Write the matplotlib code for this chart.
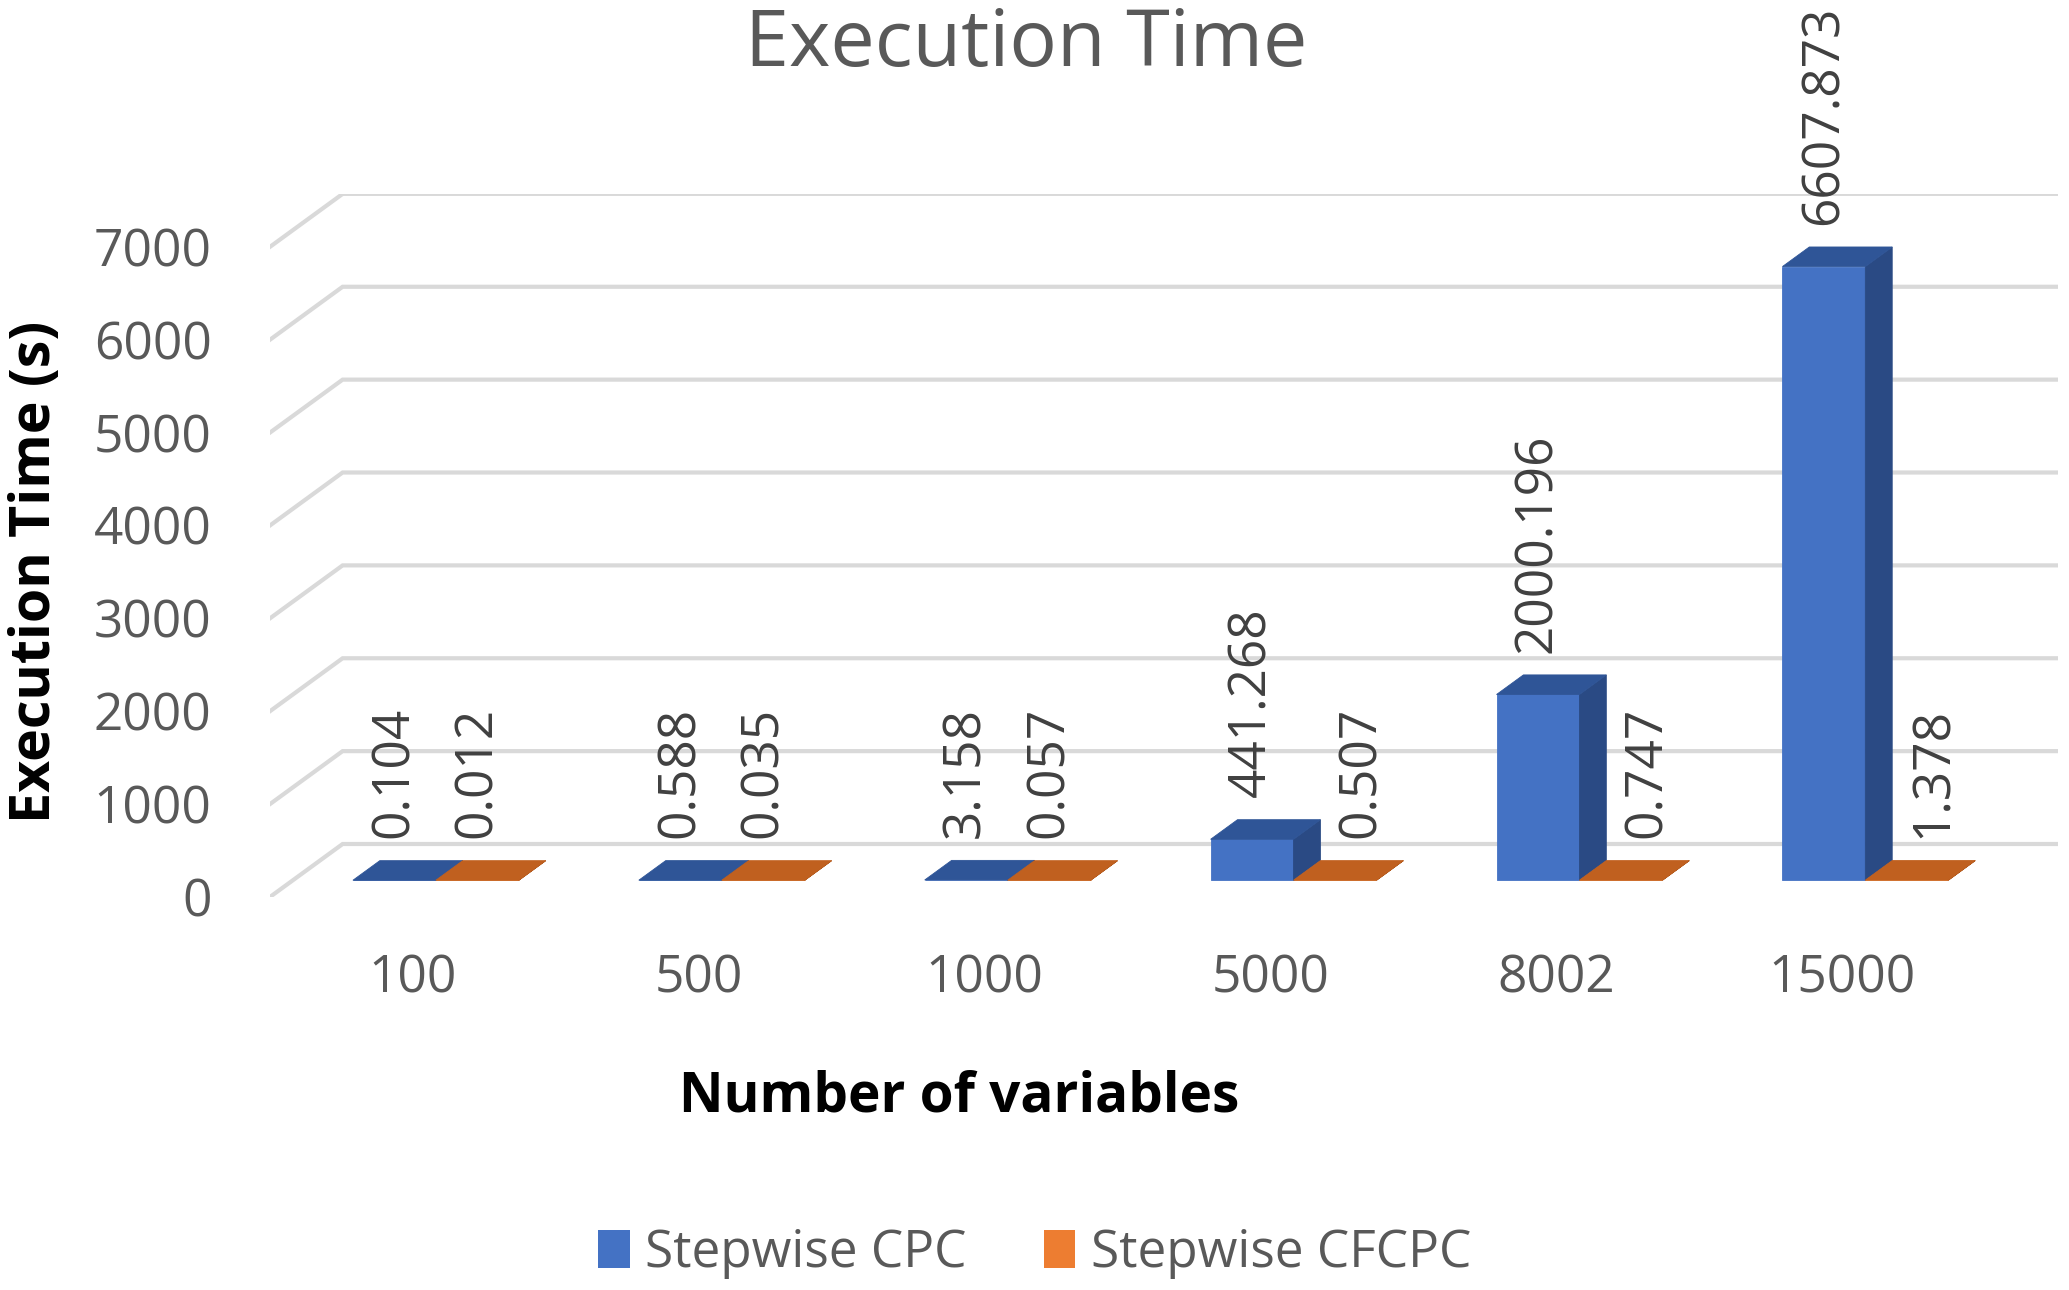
import numpy as np
import matplotlib.pyplot as plt
from matplotlib.patches import Polygon, Patch

plt.rcParams['font.family'] = ['Open Sans', 'DejaVu Sans']

# data
categories = ['100', '500', '1000', '5000', '8002', '15000']
cpc_times = [0.104, 0.588, 3.158, 441.268, 2000.196, 6607.873]
cfcpc_times = [0.012, 0.035, 0.057, 0.507, 0.747, 1.378]
series_names = ['Stepwise CPC', 'Stepwise CFCPC']
y_ticks = [0, 1000, 2000, 3000, 4000, 5000, 6000, 7000]

# colours (front, top, side)
blue = ('#4472C4', '#2F5597', '#2A4A84')
orange = ('#ED7D31', '#C0601F', '#A04E16')
grid_c = '#D9D9D9'
tick_c = '#595959'
label_c = '#404040'

# fake 3d: floor depth expressed in data units
depth_x = 0.254
depth_y = 570
bar_w = 0.29
d_front, d_back = 0.315, 0.685

fig = plt.figure(figsize=(20.69, 12.90), dpi=100)
ax = fig.add_axes([0.1305, 0.3047, 0.8642, 0.545])
x = np.arange(len(categories))
xmin, xmax = -0.5, len(categories) - 0.5 + depth_x
ax.set_xlim(xmin, xmax)
ax.set_ylim(0, y_ticks[-1] + depth_y)

# gridlines: diagonal on the side wall + line on the back wall
for v in y_ticks:
    ax.plot([xmin, xmin + depth_x, xmax], [v, v + depth_y, v + depth_y],
            color=grid_c, lw=3, zorder=0, solid_joinstyle='miter')


def draw_bars(xl, vals, cols):
    ox, oy = d_front * depth_x, d_front * depth_y
    bx, by = d_back * depth_x, d_back * depth_y
    ax.bar(xl + ox, vals, width=bar_w, bottom=oy, align='edge',
           color=cols[0], edgecolor=cols[0], lw=0.6, zorder=3)
    for xi, h in zip(xl, vals):
        top = [(xi + ox, h + oy), (xi + ox + bar_w, h + oy),
               (xi + bx + bar_w, h + by), (xi + bx, h + by)]
        side = [(xi + ox + bar_w, oy), (xi + bx + bar_w, by),
                (xi + bx + bar_w, h + by), (xi + ox + bar_w, h + oy)]
        ax.add_patch(Polygon(side, closed=True, fc=cols[2], ec=cols[2], lw=0.6, zorder=3))
        ax.add_patch(Polygon(top, closed=True, fc=cols[1], ec=cols[1], lw=0.6, zorder=3))


draw_bars(x - bar_w, cpc_times, blue)
draw_bars(x, cfcpc_times, orange)

# data labels
for i in range(len(categories)):
    yb = cpc_times[i] + d_back * depth_y
    xb = x[i] - bar_w / 2 + d_front * depth_x
    ax.annotate(f'{cpc_times[i]:.3f}', (xb, yb), xytext=(0, 16), textcoords='offset points',
                rotation=90, ha='center', va='bottom', fontsize=37, color=label_c,
                annotation_clip=False, zorder=5)
    yo = cfcpc_times[i] + d_back * depth_y
    xo = x[i] + bar_w / 2 + d_front * depth_x
    if cpc_times[i] > 100:
        # move aside of the tall blue bar
        xo += (d_back - d_front) * depth_x
    ax.annotate(f'{cfcpc_times[i]:.3f}', (xo, yo), xytext=(0, 16), textcoords='offset points',
                rotation=90, ha='center', va='bottom', fontsize=37, color=label_c,
                annotation_clip=False, zorder=5)

ax.set_xticks(x, categories)
ax.set_yticks(y_ticks, [str(v) for v in y_ticks])
ax.tick_params(axis='both', length=0, labelsize=37, labelcolor=tick_c)
ax.tick_params(axis='x', pad=41)
ax.tick_params(axis='y', pad=42)
for s in ax.spines.values():
    s.set_visible(False)

fig.text(0.4962, 0.949, 'Execution Time', ha='center', va='baseline', fontsize=57, color=tick_c)
fig.text(0.0172, 0.557, 'Execution Time (s)', rotation=90, ha='center', va='center',
         fontsize=40, fontweight='bold', color='black')
fig.text(0.4636, 0.15, 'Number of variables', ha='center', va='center',
         fontsize=39.5, fontweight='bold', color='black')

handles = [Patch(facecolor=blue[0]), Patch(facecolor=orange[0])]
fig.legend(handles, series_names, loc='center', bbox_to_anchor=(0.5, 0.0283), ncol=2,
           frameon=False, fontsize=37, handlelength=0.62, handleheight=0.74,
           handletextpad=0.3, columnspacing=1.5, labelcolor=tick_c)

fig.savefig('out.png', dpi=100)
